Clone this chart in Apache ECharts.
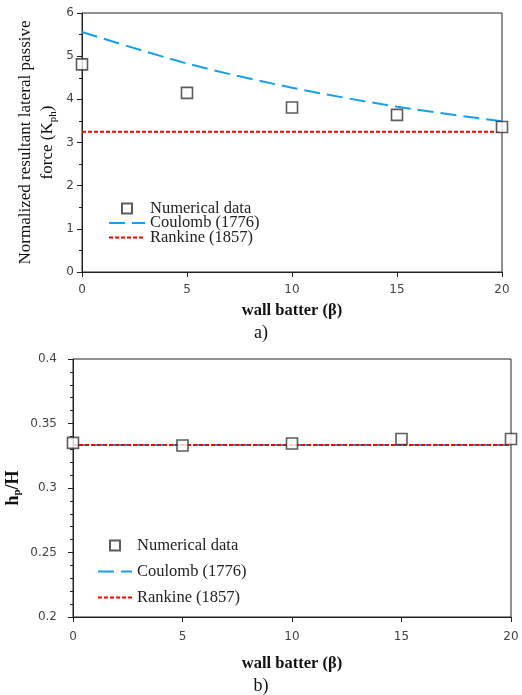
<!DOCTYPE html>
<html>
<head>
<meta charset="utf-8">
<script src="https://cdn.jsdelivr.net/npm/echarts@6/dist/echarts.min.js"></script>
<style>
html,body{margin:0;padding:0;background:#fff;}
#chart{width:522px;height:695px;}
</style>
</head>
<body>
<div id="chart"></div>
<script>
// ---- data ----
const betaValues = [0, 5, 10, 15, 20];
const xTicks = [0, 5, 10, 15, 20];
// chart a) normalized resultant lateral passive force Kph
const kphNumerical = [4.81, 4.15, 3.81, 3.64, 3.36];
const kphCoulomb = [5.56, 4.83, 4.27, 3.83, 3.49];
const kphRankine = [3.25, 3.25, 3.25, 3.25, 3.25];
// chart b) hp/H
const hpNumerical = [0.335, 0.333, 0.3345, 0.338, 0.338];
const hpCoulomb = [0.3333, 0.3333, 0.3333, 0.3333, 0.3333];
const hpRankine = [0.3333, 0.3333, 0.3333, 0.3333, 0.3333];
const legendNames = ['Numerical data', 'Coulomb (1776)', 'Rankine (1857)'];

const pair = (xs, ys) => xs.map((x, i) => [x, ys[i]]);

const serif = '"Liberation Serif", "Times New Roman", serif';
const sans = '"DejaVu Sans", sans-serif';
const axisColor = '#222';
const blue = '#14a0f0';
const red = '#ff0000';

function xAxis(gridIndex, nameGap, margin) {
  return {
    type: 'value', gridIndex, min: 0, max: 20, interval: 5,
    name: 'wall batter (β)', nameLocation: 'middle', nameGap,
    nameTextStyle: { fontFamily: serif, fontSize: 16.5, fontWeight: 'bold', color: '#111' },
    axisLine: { show: true, lineStyle: { color: axisColor, width: 1 } },
    axisTick: { show: true, inside: false, length: 5, lineStyle: { color: axisColor } },
    axisLabel: { fontFamily: sans, fontSize: 12, color: '#444', margin },
    splitLine: { show: false }
  };
}

function legendData() {
  return [
    { name: legendNames[0], icon: 'path://M0,0H10V10H0Z' },
    { name: legendNames[1], itemStyle: { opacity: 0 } },
    { name: legendNames[2], itemStyle: { opacity: 0 } }
  ];
}

const option = {
  animation: false,
  backgroundColor: '#fff',
  grid: [
    { left: 82, top: 13, width: 420, height: 259, show: true, borderColor: axisColor, borderWidth: 1, backgroundColor: 'transparent', containLabel: false, outerBoundsMode: 'none' },
    { left: 73, top: 359, width: 438, height: 258, show: true, borderColor: axisColor, borderWidth: 1, backgroundColor: 'transparent', containLabel: false, outerBoundsMode: 'none' }
  ],
  xAxis: [xAxis(0, 30, 12), xAxis(1, 38, 14)],
  yAxis: [
    {
      type: 'value', gridIndex: 0, min: 0, max: 6, interval: 1,
      name: 'Normalized resultant lateral passive\nforce (K{sub|ph})',
      nameLocation: 'middle', nameGap: 23, nameMoveOverlap: false,
      nameTextStyle: {
        fontFamily: serif, fontSize: 17, color: '#111', lineHeight: 22,
        rich: { sub: { fontFamily: serif, fontSize: 11, color: '#111', verticalAlign: 'bottom', lineHeight: 22, padding: [7, 0, 0, 0] } }
      },
      axisLine: { show: true, lineStyle: { color: axisColor, width: 1 } },
      axisTick: { show: true, length: 5, lineStyle: { color: axisColor } },
      minorTick: { show: true, splitNumber: 2, length: 3, lineStyle: { color: axisColor } },
      axisLabel: { fontFamily: sans, fontSize: 12, color: '#444', margin: 8 },
      splitLine: { show: false }
    },
    {
      type: 'value', gridIndex: 1, min: 0.2, max: 0.4, interval: 0.05,
      name: 'h{sub|p}/H',
      nameLocation: 'middle', nameGap: 50, nameMoveOverlap: false,
      nameTextStyle: {
        fontFamily: serif, fontSize: 18, fontWeight: 'bold', color: '#111',
        rich: { sub: { fontFamily: serif, fontSize: 11, fontWeight: 'bold', color: '#111', verticalAlign: 'bottom', padding: [8, 0, 0, 0] } }
      },
      axisLine: { show: true, lineStyle: { color: axisColor, width: 1 } },
      axisTick: { show: true, length: 5, lineStyle: { color: axisColor } },
      minorTick: { show: true, splitNumber: 5, length: 3, lineStyle: { color: axisColor } },
      axisLabel: { fontFamily: sans, fontSize: 12, color: '#444', margin: 16, formatter: v => String(+v.toFixed(2)) },
      splitLine: { show: false }
    }
  ],
  legend: [
    {
      data: legendData(),
      orient: 'vertical', left: 108, top: 200, padding: 0, itemWidth: 36, itemHeight: 10, itemGap: -2.5,
      symbolKeepAspect: true, selectedMode: false,
      textStyle: { fontFamily: serif, fontSize: 16.5, color: '#222', lineHeight: 15 }
    },
    {
      data: legendData(),
      orient: 'vertical', left: 97, top: 537, padding: 0, itemWidth: 34, itemHeight: 10, itemGap: 9,
      symbolKeepAspect: true, selectedMode: false,
      textStyle: { fontFamily: serif, fontSize: 16.5, color: '#222', lineHeight: 17 }
    }
  ],
  graphic: [
    { type: 'text', left: 'center', top: 324, style: { text: 'a)', font: '18px ' + serif, fill: '#111' } },
    { type: 'text', left: 'center', top: 677, style: { text: 'b)', font: '18px ' + serif, fill: '#111' } }
  ],
  series: [
    {
      name: legendNames[2], type: 'line', xAxisIndex: 0, yAxisIndex: 0,
      data: pair(betaValues, kphRankine), showSymbol: false, symbol: 'none',
      itemStyle: { color: red },
      lineStyle: { color: red, width: 2, type: [4, 2] }, z: 2
    },
    {
      name: legendNames[1], type: 'line', xAxisIndex: 0, yAxisIndex: 0,
      data: pair(betaValues, kphCoulomb), showSymbol: false, symbol: 'none', smooth: 0.3,
      itemStyle: { color: blue },
      lineStyle: { color: blue, width: 2, type: [16, 7] }, z: 2
    },
    {
      name: legendNames[0], type: 'scatter', xAxisIndex: 0, yAxisIndex: 0,
      data: pair(betaValues, kphNumerical), symbol: 'rect', symbolSize: 11, clip: false,
      itemStyle: { color: '#fff', borderColor: '#333', borderWidth: 1.6 }, z: 3
    },
    {
      name: legendNames[1], type: 'line', xAxisIndex: 1, yAxisIndex: 1,
      data: pair(betaValues, hpCoulomb), showSymbol: false, symbol: 'none',
      itemStyle: { color: blue },
      lineStyle: { color: blue, width: 2, type: [14, 6] }, z: 2
    },
    {
      name: legendNames[2], type: 'line', xAxisIndex: 1, yAxisIndex: 1,
      data: pair(betaValues, hpRankine), showSymbol: false, symbol: 'none',
      itemStyle: { color: red },
      lineStyle: { color: red, width: 2, type: [4, 2] }, z: 2
    },
    {
      name: legendNames[0], type: 'scatter', xAxisIndex: 1, yAxisIndex: 1,
      data: pair(betaValues, hpNumerical), symbol: 'rect', symbolSize: 11, clip: false,
      itemStyle: { color: '#fff', borderColor: '#333', borderWidth: 1.6 }, z: 3
    }
  ]
};

const chart = echarts.init(document.getElementById('chart'), null, { renderer: 'canvas' });
chart.setOption(option);
</script>
</body>
</html>
